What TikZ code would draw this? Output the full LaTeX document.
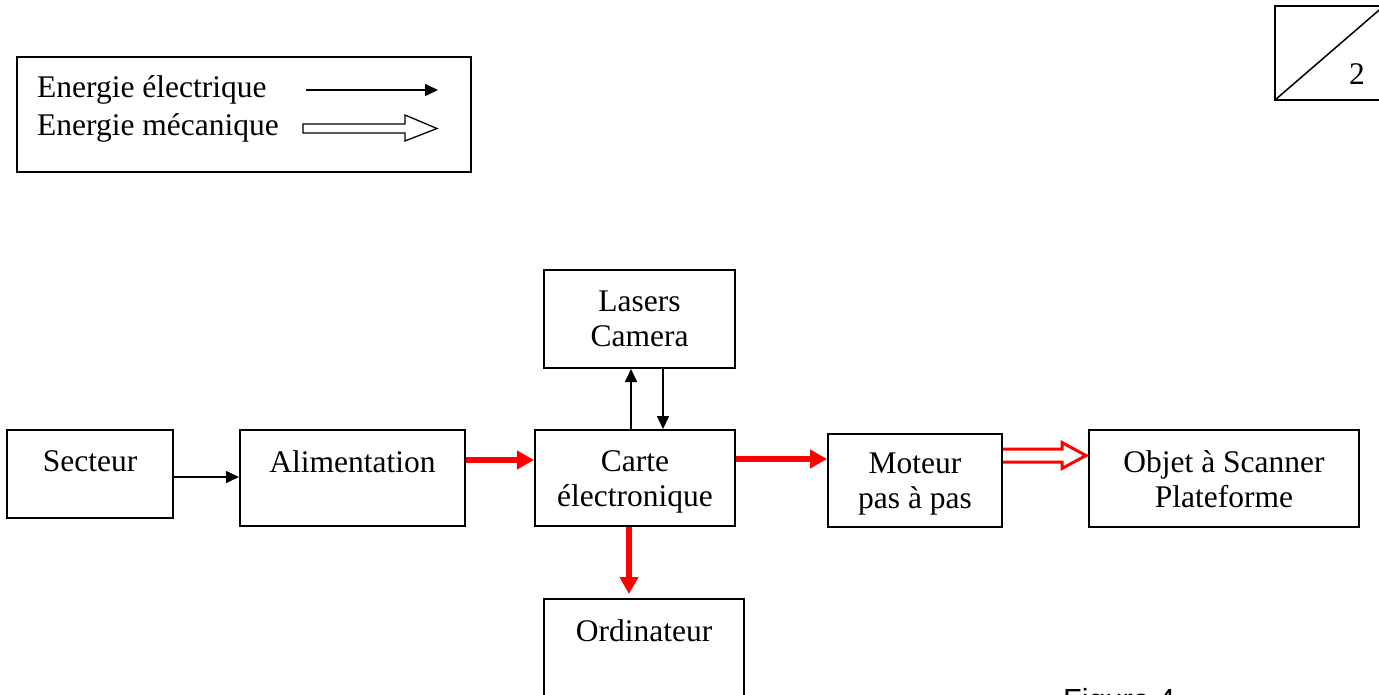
\documentclass[tikz,border=0pt]{standalone}
\usepackage{fontspec}
\setmainfont{Liberation Serif}
\newfontfamily\figfont{Liberation Sans}
\usetikzlibrary{arrows.meta,calc}
\tikzset{
  blk/.style={draw=black,line width=2pt,minimum width=#1,inner sep=0pt},
  lbl/.style={font=\fontsize{31.5}{35}\selectfont,align=center,inner sep=0pt,anchor=north},
  elec/.style={line width=1.6pt,-{Triangle[length=13pt,width=12pt]}},
  redarr/.style={red,line width=6pt,-{Triangle[length=17pt,width=18pt]}},
}
\begin{document}
\begin{tikzpicture}[x=1pt,y=-1pt]
\clip (0,0) rectangle (1379,695);
\useasboundingbox (0,0) rectangle (1379,695);
% legend
\node[draw,line width=1.6pt,minimum width=454pt,minimum height=115pt,inner sep=0pt] (leg) at (244,114.5) {};
\node[font=\fontsize{31.5}{35}\selectfont,anchor=west,inner sep=0pt] (le) at (37,90) {Energie électrique};
\node[font=\fontsize{31.5}{35}\selectfont,anchor=west,inner sep=0pt] (lm) at (37,128) {Energie mécanique};
\coordinate (e1) at (306,90);
\coordinate (e2) at (438,90);
\draw[elec] (e1) -- (e2);
\coordinate (m0) at (303,124);
\draw[line width=1.3pt,fill=white] (m0) -- (405,124) -- (405,115) -- (437,128.5) -- (405,141) -- (405,133) -- (303,133) -- cycle;
% page box
\coordinate (pb) at (1275,100);
\draw[line width=1.8pt] (1390,6) -- (1275,6) -- (pb) -- (1390,100);
\draw[line width=1.5pt] (pb) -- (1385,5);
\node[font=\fontsize{31.5}{35}\selectfont,inner sep=0pt] (pg) at (1357,74) {2};
% blocks
\node[blk=166pt,minimum height=88pt] (sec) at (90,474) {};
\node[lbl] at ($(sec.north)+(0,21)$) {Secteur};
\node[blk=225pt,minimum height=96pt] (ali) at (352.5,478) {};
\node[lbl] at ($(ali.north)+(0,21)$) {Alimentation};
\node[blk=200pt,minimum height=96pt] (car) at (635,478) {};
\node[lbl] at ($(car.north)+(0,21)$) {Carte\\électronique};
\node[blk=191pt,minimum height=98pt] (las) at (639.5,319) {};
\node[lbl] at ($(las.north)+(0,22)$) {Lasers\\Camera};
\node[blk=200pt,minimum height=110pt] (ord) at (644,654) {};
\node[lbl] at ($(ord.north)+(0,21)$) {Ordinateur};
\node[blk=174pt,minimum height=93pt] (mot) at (915,480.5) {};
\node[lbl] at ($(mot.north)+(0,20)$) {Moteur\\pas à pas};
\node[blk=270pt,minimum height=97pt] (obj) at (1224,478.5) {};
\node[lbl] at ($(obj.north)+(0,21)$) {Objet à Scanner\\Plateforme};
% connectors
\draw[elec] (sec.east |- 0,477) -- (ali.west |- 0,477);
\draw[redarr] (ali.east |- 0,460) -- (car.west |- 0,460);
\draw[elec] (car.north -| 631,0) -- (las.south -| 631,0);
\draw[elec] (las.south -| 663,0) -- (car.north -| 663,0);
\draw[redarr] (car.south -| 629,0) -- ($(ord.north -| 629,0)+(0,-4)$);
\draw[redarr] (car.east |- 0,459) -- (mot.west |- 0,459);
\coordinate (h0) at ($(mot.east |- 0,455.5)$);
\draw[red,line width=3pt,fill=white] ($(h0)+(0,-6.5)$) -- (1062,449) -- (1062,442.5) -- (1086,455.5) -- (1062,468.5) -- (1062,462) -- ($(h0)+(0,6.5)$);
% caption
\node[font=\figfont\fontsize{30.5}{34}\selectfont,anchor=base west,inner sep=0pt] (fig) at (1063,710) {Figure 4};
\end{tikzpicture}
\end{document}
